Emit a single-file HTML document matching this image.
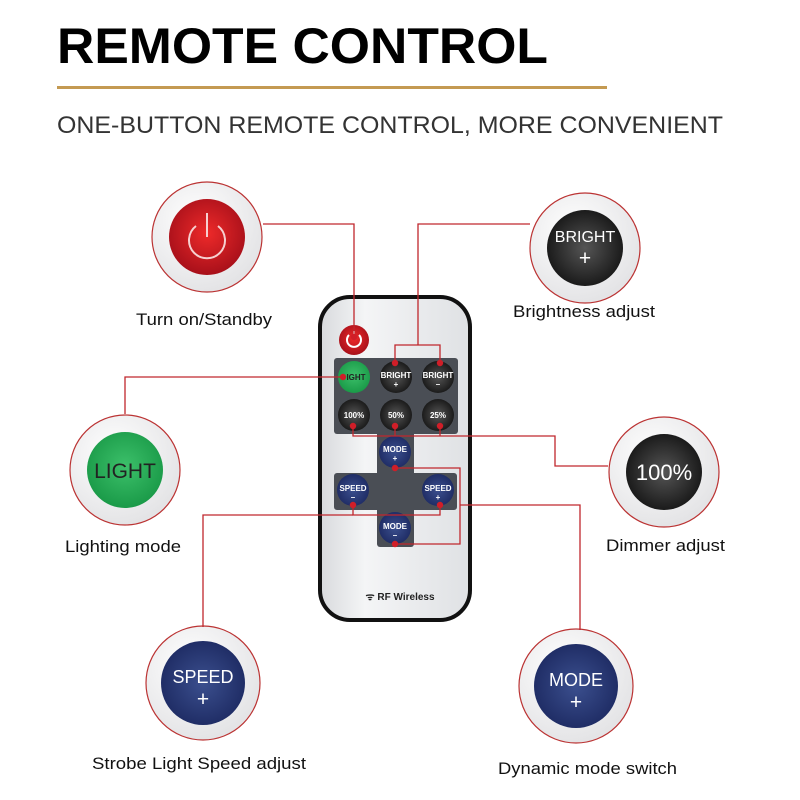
<!DOCTYPE html>
<html><head><meta charset="utf-8"><style>
html,body{margin:0;padding:0;background:#fff}
svg{display:block}
text{font-family:"Liberation Sans",Arial,sans-serif}
</style></head><body>
<svg width="800" height="800" viewBox="0 0 800 800" xmlns="http://www.w3.org/2000/svg">
<defs>
<radialGradient id="red" cx="50%" cy="45%" r="55%"><stop offset="0" stop-color="#ee2a2a"/><stop offset="1" stop-color="#a8101a"/></radialGradient>
<radialGradient id="blk" cx="50%" cy="50%" r="55%"><stop offset="0" stop-color="#555"/><stop offset="1" stop-color="#151515"/></radialGradient>
<radialGradient id="grn" cx="50%" cy="45%" r="55%"><stop offset="0" stop-color="#3cc06a"/><stop offset="1" stop-color="#1a9a48"/></radialGradient>
<radialGradient id="blu" cx="50%" cy="50%" r="55%"><stop offset="0" stop-color="#3b4f8e"/><stop offset="1" stop-color="#1d2a62"/></radialGradient>
<radialGradient id="ring" cx="40%" cy="35%" r="65%"><stop offset="0" stop-color="#fff"/><stop offset="1" stop-color="#e4e4e6"/></radialGradient>
<linearGradient id="body" x1="0" y1="0" x2="1" y2="0"><stop offset="0" stop-color="#d8dadd"/><stop offset=".3" stop-color="#f4f5f6"/><stop offset="1" stop-color="#dfe1e4"/></linearGradient>
</defs>

<text x="57" y="63" font-size="50" font-weight="bold" fill="#000" textLength="491" lengthAdjust="spacingAndGlyphs">REMOTE CONTROL</text>
<rect x="57" y="86" width="550" height="3" fill="#c49a52"/>
<text x="57" y="133" font-size="24" fill="#333" textLength="666" lengthAdjust="spacingAndGlyphs">ONE-BUTTON REMOTE CONTROL, MORE CONVENIENT</text>

<g>
<circle cx="207" cy="237" r="55" fill="url(#ring)" stroke="#b33" stroke-width="1.2"/>
<circle cx="207" cy="237" r="38" fill="url(#red)"/>
<path d="M196 226 A18 18 0 1 0 218 226" stroke="#f6d0d0" stroke-width="2" fill="none"/>
<line x1="207" y1="213" x2="207" y2="237" stroke="#f6d0d0" stroke-width="2"/>
<text x="136" y="325" font-size="17" fill="#111" textLength="136" lengthAdjust="spacingAndGlyphs">Turn on/Standby</text>

<circle cx="585" cy="248" r="55" fill="url(#ring)" stroke="#b33" stroke-width="1.2"/>
<circle cx="585" cy="248" r="38" fill="url(#blk)"/>
<text x="585" y="242" font-size="16" text-anchor="middle" fill="#fff">BRIGHT</text>
<text x="585" y="265" font-size="21" text-anchor="middle" fill="#fff">+</text>
<text x="513" y="317" font-size="17" fill="#111" textLength="142" lengthAdjust="spacingAndGlyphs">Brightness adjust</text>

<circle cx="125" cy="470" r="55" fill="url(#ring)" stroke="#b33" stroke-width="1.2"/>
<circle cx="125" cy="470" r="38" fill="url(#grn)"/>
<text x="125" y="478" font-size="21" text-anchor="middle" fill="#222">LIGHT</text>
<text x="65" y="552" font-size="17" fill="#111" textLength="116" lengthAdjust="spacingAndGlyphs">Lighting mode</text>

<circle cx="664" cy="472" r="55" fill="url(#ring)" stroke="#b33" stroke-width="1.2"/>
<circle cx="664" cy="472" r="38" fill="url(#blk)"/>
<text x="664" y="480" font-size="22" text-anchor="middle" fill="#fff">100%</text>
<text x="606" y="551" font-size="17" fill="#111" textLength="119" lengthAdjust="spacingAndGlyphs">Dimmer adjust</text>

<circle cx="203" cy="683" r="57" fill="url(#ring)" stroke="#b33" stroke-width="1.2"/>
<circle cx="203" cy="683" r="42" fill="url(#blu)"/>
<text x="203" y="683" font-size="18" text-anchor="middle" fill="#fff">SPEED</text>
<text x="203" y="706" font-size="21" text-anchor="middle" fill="#fff">+</text>
<text x="92" y="769" font-size="17" fill="#111" textLength="214" lengthAdjust="spacingAndGlyphs">Strobe Light Speed adjust</text>

<circle cx="576" cy="686" r="57" fill="url(#ring)" stroke="#b33" stroke-width="1.2"/>
<circle cx="576" cy="686" r="42" fill="url(#blu)"/>
<text x="576" y="686" font-size="18" text-anchor="middle" fill="#fff">MODE</text>
<text x="576" y="709" font-size="21" text-anchor="middle" fill="#fff">+</text>
<text x="498" y="774" font-size="17" fill="#111" textLength="179" lengthAdjust="spacingAndGlyphs">Dynamic mode switch</text>
</g>

<rect x="320" y="297" width="150" height="323" rx="30" fill="url(#body)" stroke="#111" stroke-width="4"/>
<circle cx="354" cy="340" r="15" fill="url(#red)"/>
<path d="M349 335 A7 7 0 1 0 359 335" stroke="#fff" stroke-width="2" fill="none"/>
<line x1="354" y1="331" x2="354" y2="340" stroke="#fff" stroke-width="2"/>
<rect x="334" y="358" width="124" height="76" rx="3" fill="#4a4e55"/>
<rect x="377" y="434" width="37" height="113" rx="3" fill="#4a4e55"/>
<rect x="334" y="473" width="123" height="37" rx="3" fill="#4a4e55"/>
<rect x="377" y="430" width="37" height="10" fill="#4a4e55"/>
<g font-size="8" font-weight="bold" fill="#fff" text-anchor="middle">
<circle cx="354" cy="377" r="16" fill="url(#grn)"/><text x="356" y="380" fill="#222">IGHT</text>
<circle cx="396" cy="377" r="16" fill="url(#blk)"/><text x="396" y="378">BRIGHT</text><text x="396" y="387">+</text>
<circle cx="438" cy="377" r="16" fill="url(#blk)"/><text x="438" y="378">BRIGHT</text><text x="438" y="387">–</text>
<circle cx="354" cy="415" r="16" fill="url(#blk)"/><text x="354" y="418">100%</text>
<circle cx="396" cy="415" r="16" fill="url(#blk)"/><text x="396" y="418">50%</text>
<circle cx="438" cy="415" r="16" fill="url(#blk)"/><text x="438" y="418">25%</text>
<circle cx="395" cy="452" r="16" fill="url(#blu)"/><text x="395" y="452">MODE</text><text x="395" y="461">+</text>
<circle cx="353" cy="490" r="16" fill="url(#blu)"/><text x="353" y="491">SPEED</text><text x="353" y="500">–</text>
<circle cx="438" cy="490" r="16" fill="url(#blu)"/><text x="438" y="491">SPEED</text><text x="438" y="500">+</text>
<circle cx="395" cy="528" r="16" fill="url(#blu)"/><text x="395" y="529">MODE</text><text x="395" y="538">–</text>
</g>
<text x="400" y="600" font-size="10" font-weight="bold" fill="#222" text-anchor="middle">ᯤ RF Wireless</text>

<g stroke="#c0272d" stroke-width="1.3" fill="none">
<polyline points="263,224 354,224 354,337"/>
<polyline points="395,363 395,345 440,345 440,363"/>
<polyline points="418,345 418,224 530,224"/>
<polyline points="343,377 125,377 125,414"/>
<polyline points="353,426 353,436 555,436 555,466 608,466"/>
<line x1="395" y1="426" x2="395" y2="436"/>
<line x1="440" y1="426" x2="440" y2="436"/>
<polyline points="395,468 460,468 460,544 395,544"/>
<polyline points="460,505 580,505 580,630"/>
<polyline points="353,505 353,515 440,515 440,505"/>
<polyline points="353,515 203,515 203,627"/>
</g>
<g fill="#d01e28">
<circle cx="354" cy="337" r="3.2"/><circle cx="395" cy="363" r="3.2"/><circle cx="440" cy="363" r="3.2"/>
<circle cx="343" cy="377" r="3.2"/><circle cx="353" cy="426" r="3.2"/><circle cx="395" cy="426" r="3.2"/>
<circle cx="440" cy="426" r="3.2"/><circle cx="395" cy="468" r="3.2"/><circle cx="395" cy="544" r="3.2"/>
<circle cx="353" cy="505" r="3.2"/><circle cx="440" cy="505" r="3.2"/>
</g>
</svg>
</body></html>
